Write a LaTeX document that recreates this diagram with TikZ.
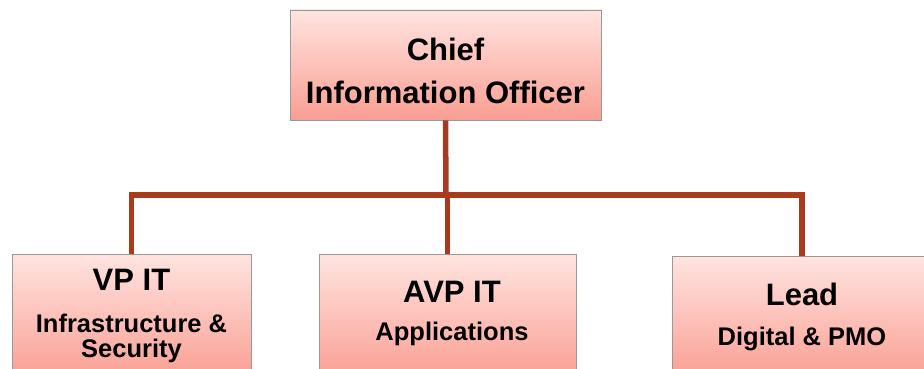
\documentclass[tikz,border=0pt]{standalone}
\usepackage{fontspec}
\setmainfont{Liberation Sans}
\begin{document}
\begin{tikzpicture}[x=1pt,y=-1pt,
  box/.style={draw=black!40, line width=0.8pt, top color=boxtop, bottom color=boxbot, minimum width=#1, inner sep=0pt},
  conn/.style={draw=connc, line width=5.5pt},
  big/.style={font=\fontsize{31}{31}\selectfont\bfseries, anchor=base, inner sep=0pt},
  small/.style={font=\fontsize{25.5}{25.5}\selectfont\bfseries, anchor=base, inner sep=0pt}]
\definecolor{boxtop}{RGB}{255,228,224}
\definecolor{boxbot}{RGB}{250,158,146}
\definecolor{connc}{RGB}{168,58,30}
\useasboundingbox (0,0) rectangle (924,369);
\clip (0,0) rectangle (924,369);
\coordinate (bus) at (446,195);
\node[box=311pt, minimum height=110pt] (cio) at (445.5,65) {};
\node[box=239pt, minimum height=126pt] (vp) at (131.5,317) {};
\node[box=257pt, minimum height=126pt] (avp) at (447.5,317) {};
\node[box=260pt, minimum height=124pt] (lead) at (802,318) {};
\draw[conn] (cio.south) -- (bus);
\draw[conn] (vp.north) |- (bus) -| (lead.north);
\draw[conn] (avp.north) -- (avp.north |- bus);
\node[big] (t1) at (445.5,60) {Chief};
\node[big] (t2) at (445.5,103) {Information Officer};
\node[big] (t3) at (131.5,290) {VP IT};
\node[small] (t4) at (131.5,332) {Infrastructure \&};
\node[small] (t5) at (131.5,357) {Security};
\node[big] (t6) at (452,302) {AVP IT};
\node[small] (t7) at (452,340) {Applications};
\node[big] (t8) at (802,305) {Lead};
\node[small] (t9) at (802,345) {Digital \& PMO};
\end{tikzpicture}
\end{document}
